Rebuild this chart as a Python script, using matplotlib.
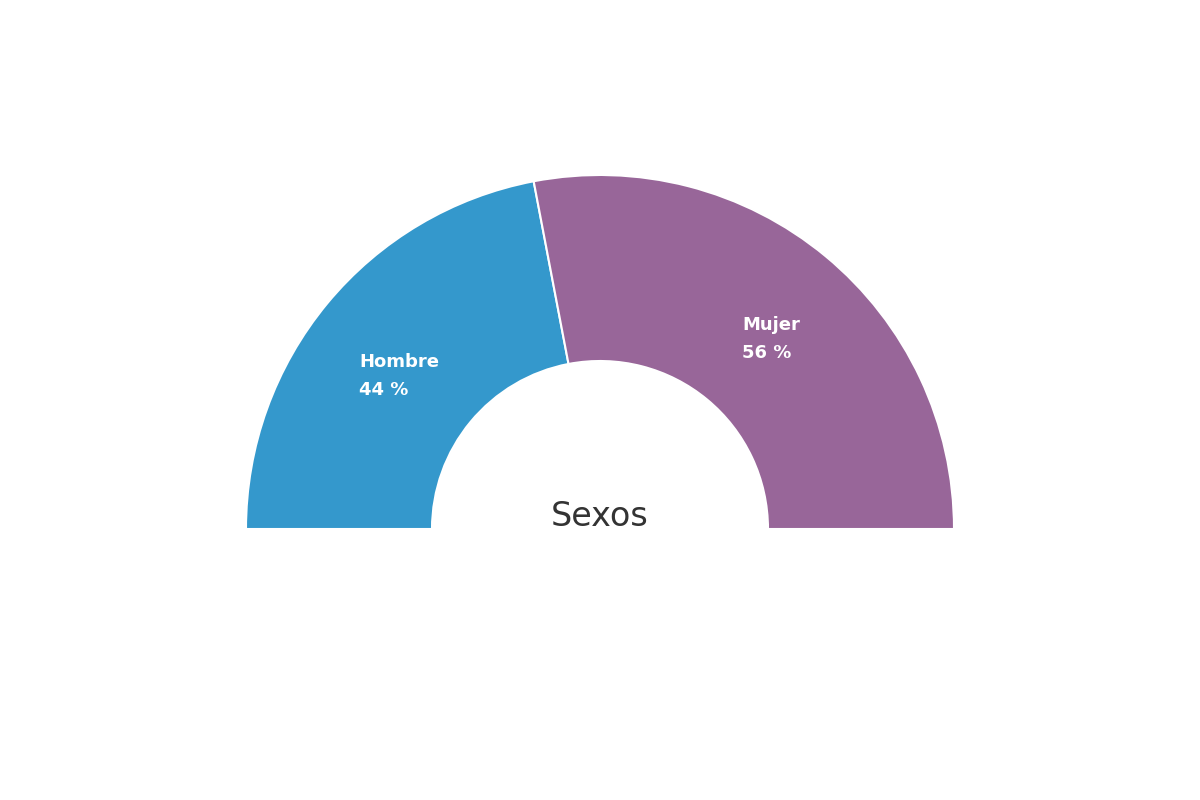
import matplotlib.pyplot as plt
import numpy as np

labels = ["Hombre", "Mujer"]
values = [44, 56]
colors = ["#3498cc", "#986699"]
title = "Sexos"

fig = plt.figure(figsize=(12, 8), dpi=100)
ax = fig.add_axes([0, 0, 1, 1])

outer_px = 354
inner_px = 168
width = (outer_px - inner_px) / outer_px

# half donut: real slices plus an invisible filler for the lower half
total = sum(values)
wedges, _ = ax.pie(values + [total], colors=colors + ["none"], startangle=180,
                   counterclock=False, radius=1,
                   wedgeprops=dict(width=width, edgecolor="white", linewidth=1.5))
wedges[-1].set_edgecolor("none")

ax.set_xlim(-600 / outer_px, 600 / outer_px)
ax.set_ylim(-271 / outer_px, 529 / outer_px)
ax.set_aspect("equal")
ax.axis("off")

# labels near the middle of each wedge (small nudges in px)
nudges = [(0, 1), (5, 3)]
r_mid = 1 - width / 2
for w, lab, v, (dx, dy) in zip(wedges[:-1], labels, values, nudges):
    ang = np.deg2rad((w.theta1 + w.theta2) / 2)
    ax.text(r_mid * np.cos(ang) + dx / outer_px,
            r_mid * np.sin(ang) - 0.04 + dy / outer_px, f"{lab}\n{v} %",
            ha="center", va="center", multialignment="left", color="white",
            fontsize=13, fontweight="bold", linespacing=1.7)

ax.text(0, 0.035, title, ha="center", va="center", fontsize=24, color="#333333")

plt.savefig("out.png", dpi=100)
